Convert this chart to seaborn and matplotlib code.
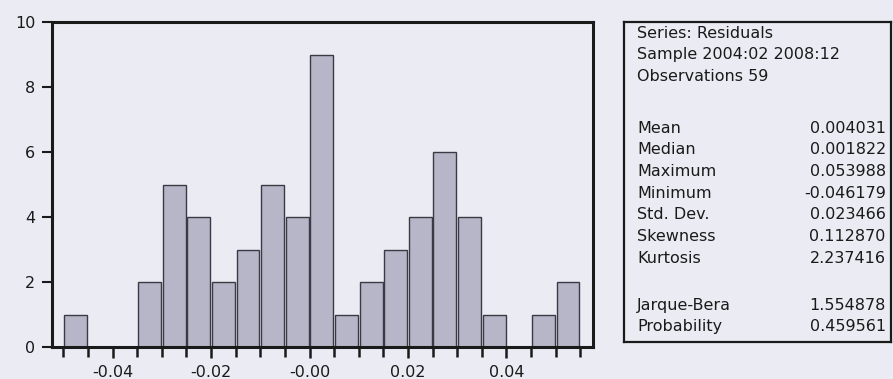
import numpy as np
import pandas as pd
import matplotlib
matplotlib.use("Agg")
import matplotlib.pyplot as plt
import seaborn as sns

# datos del histograma (residuos, 59 observaciones)
bin_lefts = [-0.050, -0.045, -0.040, -0.035, -0.030, -0.025, -0.020, -0.015,
             -0.010, -0.005, 0.000, 0.005, 0.010, 0.015, 0.020, 0.025,
             0.030, 0.035, 0.040, 0.045, 0.050]
counts = [1, 0, 0, 2, 5, 4, 2, 3, 5, 4, 9, 1, 2, 3, 4, 6, 4, 1, 0, 1, 2]
bin_width = 0.005

x_ticks = [-0.04, -0.02, 0.00, 0.02, 0.04]
x_tick_labels = ["-0.04", "-0.02", "-0.00", "0.02", "0.04"]
y_ticks = [0, 2, 4, 6, 8, 10]

# tabla de estadisticos
header_lines = ["Series: Residuals", "Sample 2004:02 2008:12", "Observations 59"]
stat_names = ["Mean", "Median", "Maximum", "Minimum", "Std. Dev.", "Skewness", "Kurtosis"]
stat_values = ["0.004031", "0.001822", "0.053988", "-0.046179", "0.023466", "0.112870", "2.237416"]
test_names = ["Jarque-Bera", "Probability"]
test_values = ["1.554878", "0.459561"]

sns.set_style("ticks")
plt.rcParams["font.family"] = ["DejaVu Sans"]

bg = "#ebebf3"
ink = "#1a1a1a"
fig = plt.figure(figsize=(8.93, 3.79), dpi=100, facecolor=bg)

# histograma
ax = fig.add_axes([0.0582, 0.0844, 0.606, 0.8575], facecolor=bg)
edges = np.array(bin_lefts + [bin_lefts[-1] + bin_width])
df = pd.DataFrame({"centro": np.array(bin_lefts) + bin_width / 2, "n": counts})
sns.histplot(data=df, x="centro", weights="n", binwidth=bin_width,
             binrange=(edges[0], edges[-1]), ax=ax, shrink=0.93,
             color="#b6b6c8", edgecolor="#3a3a44", linewidth=1.0, alpha=1)

ax.set_xlim(-0.0523, 0.0576)
ax.set_ylim(0, 10)
ax.set_xticks(x_ticks)
ax.set_xticklabels(x_tick_labels)
ax.set_xticks(edges, minor=True)
ax.set_yticks(y_ticks)
ax.set_xlabel("")
ax.set_ylabel("")
ax.tick_params(axis="x", which="major", length=8, width=1.8, direction="out",
               labelsize=11.5, pad=5, colors=ink)
ax.tick_params(axis="x", which="minor", length=7, width=1.8, direction="out", colors=ink)
ax.tick_params(axis="y", length=7, width=1.5, direction="out", labelsize=11.5, pad=5,
               colors=ink)
for s in ax.spines.values():
    s.set_visible(True)
    s.set_linewidth(2.2)
    s.set_color(ink)

# recuadro de estadisticos
box = fig.add_axes([0.699, 0.0976, 0.299, 0.844], facecolor=bg)
box.set_xticks([])
box.set_yticks([])
for s in box.spines.values():
    s.set_linewidth(1.6)
    s.set_color(ink)

fs = 11.5
x_left = 0.049
x_right = 0.98
step = 21.7 / 320
y0 = 1 - 11 / 320
for i, t in enumerate(header_lines):
    box.text(x_left, y0 - i * step, t, transform=box.transAxes, fontsize=fs,
             va="center", ha="left", color=ink)
y1 = 1 - 106 / 320
for i, (n, v) in enumerate(zip(stat_names, stat_values)):
    box.text(x_left, y1 - i * step, n, transform=box.transAxes, fontsize=fs,
             va="center", ha="left", color=ink)
    box.text(x_right, y1 - i * step, v, transform=box.transAxes, fontsize=fs,
             va="center", ha="right", color=ink)
y2 = 1 - 283 / 320
for i, (n, v) in enumerate(zip(test_names, test_values)):
    box.text(x_left, y2 - i * step, n, transform=box.transAxes, fontsize=fs,
             va="center", ha="left", color=ink)
    box.text(x_right, y2 - i * step, v, transform=box.transAxes, fontsize=fs,
             va="center", ha="right", color=ink)

plt.savefig("out.png", dpi=100, facecolor=bg)
